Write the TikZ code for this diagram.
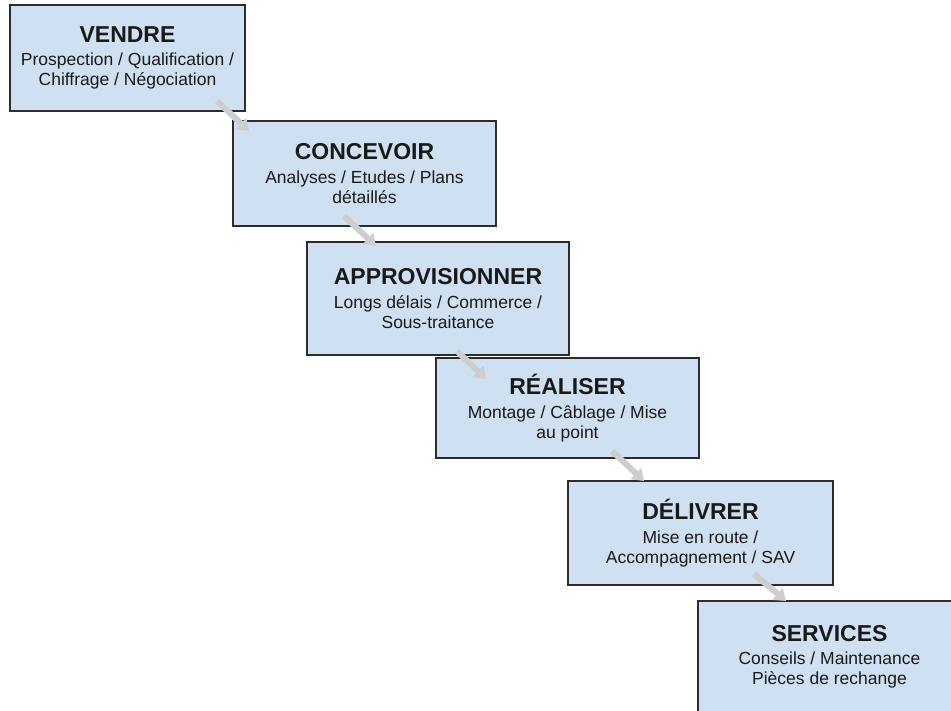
\documentclass[tikz,border=0pt]{standalone}
\usepackage{fontspec}
\setmainfont{Liberation Sans}
\usetikzlibrary{positioning}
\usetikzlibrary{arrows.meta}

\definecolor{boxfill}{RGB}{207,224,242}
\definecolor{boxline}{RGB}{45,45,45}
\definecolor{flowgray}{RGB}{206,206,206}
\newcommand\steptitle{\fontsize{23}{26}\selectfont\bfseries}

\begin{document}
\begin{tikzpicture}
  [x=1pt,y=-1pt,
  stepbox/.style={rectangle,draw=boxline,fill=boxfill,line width=2pt,inner sep=0pt,align=center,text=black!90,font=\fontsize{17.5}{20}\selectfont},
  flow/.style={draw=flowgray,line width=6pt,-{Triangle[width=15pt,length=11pt]}}]
  \useasboundingbox (0,0) rectangle (951,710);

  \node[stepbox,minimum width=235pt,minimum height=106pt] (1) at (127.5,58) {{\steptitle VENDRE}\\[3.5pt]Prospection / Qualification /\\Chiffrage / Négociation};
  \node[stepbox,minimum width=263pt,minimum height=105pt] (2) at (364.5,173.5) {{\steptitle CONCEVOIR}\\[3.5pt]Analyses / Etudes / Plans\\détaillés};
  \node[stepbox,minimum width=262pt,minimum height=113pt] (3) at (438,298.5) {{\steptitle APPROVISIONNER}\\[3.5pt]Longs délais / Commerce /\\Sous-traitance};
  \node[stepbox,minimum width=263pt,minimum height=100pt] (4) at (567.5,408) {{\steptitle RÉALISER}\\[3.5pt]Montage / Câblage / Mise\\au point};
  \node[stepbox,minimum width=265pt,minimum height=104pt] (5) at (700.5,533) {{\steptitle DÉLIVRER}\\[3.5pt]Mise en route /\\Accompagnement / SAV};
  \node[stepbox,minimum width=263pt,minimum height=112pt] (6) at (829.5,657) {{\steptitle SERVICES}\\[3.5pt]Conseils / Maintenance\\Pièces de rechange};

  \draw[flow] ([shift={(208,-11)}]1.south west) -- ([shift={(17,11)}]2.north west);
  \draw[flow] ([shift={(112,-11)}]2.south west) -- ([shift={(70,5)}]3.north west);
  \draw[flow] ([shift={(151,-5)}]3.south west) -- ([shift={(51,22)}]4.north west);
  \draw[flow] ([shift={(177,-8)}]4.south west) -- ([shift={(77,1)}]5.north west);
  \draw[flow] ([shift={(187,-12)}]5.south west) -- ([shift={(89,1)}]6.north west);
\end{tikzpicture}
\end{document}
